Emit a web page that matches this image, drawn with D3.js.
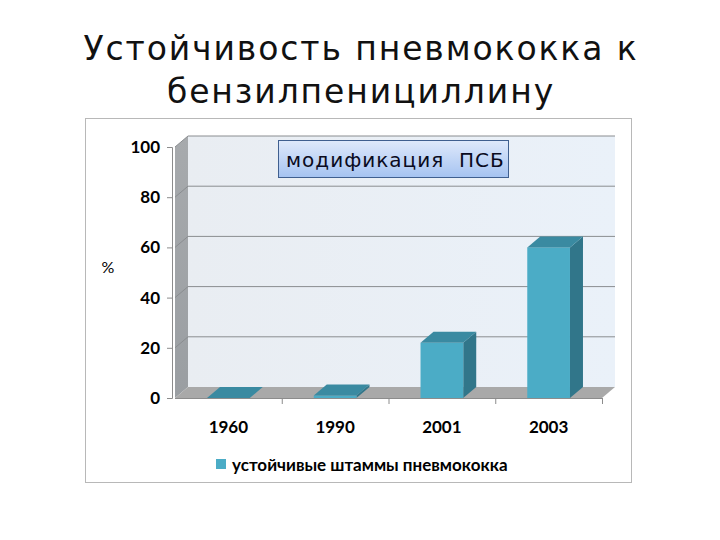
<!DOCTYPE html>
<html>
<head>
<meta charset="utf-8">
<script src="https://d3js.org/d3.v7.min.js"></script>
<style>
  body { margin: 0; background: #fff; }
</style>
</head>
<body>
<script>
  // data
  const categories = ['1960', '1990', '2001', '2003'];
  const values = [0, 1, 22, 60];
  const yTicks = [0, 20, 40, 60, 80, 100];
  const seriesName = 'устойчивые штаммы пневмококка';
  const titleLines = ['Устойчивость пневмококка к', 'бензилпенициллину'];
  const note = 'модификация  ПСБ';

  const W = 720, H = 540;
  const dx = 13, dy = -11; // 3d depth

  const svg = d3.select('body').append('svg')
    .attr('width', W).attr('height', H);

  const defs = svg.append('defs');
  const gWall = defs.append('linearGradient').attr('id', 'wall')
    .attr('x1', 0).attr('y1', 0).attr('x2', 1).attr('y2', 0);
  gWall.append('stop').attr('offset', 0).attr('stop-color', '#e9edf2');
  gWall.append('stop').attr('offset', 1).attr('stop-color', '#eaf1f9');
  const gSide = defs.append('linearGradient').attr('id', 'side')
    .attr('x1', 0).attr('y1', 0).attr('x2', 0).attr('y2', 1);
  gSide.append('stop').attr('offset', 0).attr('stop-color', '#a7aaad');
  gSide.append('stop').attr('offset', 1).attr('stop-color', '#9a9ea2');
  const gNote = defs.append('linearGradient').attr('id', 'note')
    .attr('x1', 0).attr('y1', 0).attr('x2', 0).attr('y2', 1);
  gNote.append('stop').attr('offset', 0).attr('stop-color', '#dfe9fb');
  gNote.append('stop').attr('offset', 1).attr('stop-color', '#a5c3f1');

  // title
  svg.append('g').selectAll('text')
    .data(titleLines)
    .enter().append('text')
    .attr('x', 361)
    .attr('y', (d, i) => 60 + i * 43)
    .attr('text-anchor', 'middle')
    .attr('font-family', 'DejaVu Sans')
    .attr('font-size', '33px')
    .attr('letter-spacing', '1.9px')
    .attr('fill', '#111')
    .text(d => d);

  // chart frame
  svg.append('rect')
    .attr('x', 85.5).attr('y', 118.5)
    .attr('width', 546).attr('height', 364)
    .attr('fill', '#fff').attr('stroke', '#b8b8b8');

  const x = d3.scaleBand().domain(categories)
    .range([175, 602]).paddingInner(0.6).paddingOuter(0.3);
  const xStep = d3.scaleBand().domain(categories).range([175, 602]);
  const y = d3.scaleLinear().domain([0, 100]).range([398, 147]);

  const x0 = 175, x1 = 602;

  // back wall
  svg.append('rect')
    .attr('x', x0 + dx).attr('y', y(100) + dy)
    .attr('width', x1 - x0).attr('height', y(0) - y(100))
    .attr('fill', 'url(#wall)');

  // side wall
  svg.append('path')
    .attr('d', `M${x0},${y(100)}L${x0 + dx},${y(100) + dy}L${x0 + dx},${y(0) + dy}L${x0},${y(0)}Z`)
    .attr('fill', 'url(#side)');

  // grid lines
  svg.append('g').selectAll('path')
    .data(yTicks.filter(d => d > 0))
    .enter().append('path')
    .attr('d', d => `M${x0},${y(d)}L${x0 + dx},${y(d) + dy}L${x1 + dx},${y(d) + dy}`)
    .attr('fill', 'none')
    .attr('stroke', '#8a8d90')
    .attr('stroke-width', 1);

  // floor
  svg.append('path')
    .attr('d', `M${x0},${y(0)}L${x0 + dx},${y(0) + dy}L${x1 + dx},${y(0) + dy}L${x1},${y(0)}Z`)
    .attr('fill', '#a9a9a9');

  // bars
  const bars = svg.append('g').selectAll('g')
    .data(values)
    .enter().append('g');

  bars.append('path') // side
    .attr('d', (d, i) => {
      const xr = x(categories[i]) + x.bandwidth();
      return `M${xr},${y(d)}L${xr + dx},${y(d) + dy}L${xr + dx},${y(0) + dy}L${xr},${y(0)}Z`;
    })
    .attr('fill', '#31768a');

  bars.append('rect') // front
    .attr('x', (d, i) => x(categories[i]))
    .attr('y', d => y(d))
    .attr('width', x.bandwidth())
    .attr('height', d => y(0) - y(d))
    .attr('fill', '#4bacc6');

  bars.append('path') // top
    .attr('d', (d, i) => {
      const xl = x(categories[i]), xr = xl + x.bandwidth();
      return `M${xl},${y(d)}L${xl + dx},${y(d) + dy}L${xr + dx},${y(d) + dy}L${xr},${y(d)}Z`;
    })
    .attr('fill', '#3a8aa1');

  // y axis
  const yAxis = svg.append('g')
    .attr('transform', 'translate(172,0)')
    .call(d3.axisLeft(y).tickValues(yTicks).tickSize(5).tickPadding(7));
  yAxis.select('.domain').attr('stroke', '#8c8c8c');
  yAxis.selectAll('.tick line').attr('stroke', '#8c8c8c');
  yAxis.selectAll('text')
    .attr('font-family', 'Lato')
    .attr('font-weight', 'bold')
    .attr('font-size', '17px')
    .attr('fill', '#000');

  // x axis ticks at band edges
  svg.append('path')
    .attr('d', `M${x0},${y(0) + 0.5}L${x1},${y(0) + 0.5}`)
    .attr('stroke', '#8c8c8c');
  svg.append('g').selectAll('line')
    .data(categories)
    .enter().append('line')
    .attr('x1', d => xStep(d) + xStep.bandwidth() + 0.5)
    .attr('x2', d => xStep(d) + xStep.bandwidth() + 0.5)
    .attr('y1', y(0)).attr('y2', y(0) + 6)
    .attr('stroke', '#8c8c8c');

  svg.append('g').selectAll('text')
    .data(categories)
    .enter().append('text')
    .attr('x', d => x(d) + x.bandwidth() / 2)
    .attr('y', 433)
    .attr('text-anchor', 'middle')
    .attr('font-family', 'Lato')
    .attr('font-weight', 'bold')
    .attr('font-size', '17px')
    .text(d => d);

  // y title
  svg.append('text')
    .attr('x', 108).attr('y', 273)
    .attr('text-anchor', 'middle')
    .attr('font-family', 'Lato')
    .attr('font-size', '16px')
    .text('%');

  // legend
  svg.append('rect')
    .attr('x', 216).attr('y', 459)
    .attr('width', 10).attr('height', 10)
    .attr('fill', '#4bacc6');
  svg.append('text')
    .attr('x', 232).attr('y', 471)
    .attr('font-family', 'Lato')
    .attr('font-weight', 'bold')
    .attr('font-size', '17px')
    .text(seriesName);

  // annotation
  svg.append('rect')
    .attr('x', 278.5).attr('y', 140.5)
    .attr('width', 230).attr('height', 37)
    .attr('fill', 'url(#note)')
    .attr('stroke', '#3f5f8f');
  svg.append('text')
    .attr('x', 286).attr('y', 167)
    .attr('font-family', 'DejaVu Sans')
    .attr('font-size', '20px')
    .attr('letter-spacing', '1px')
    .attr('fill', '#0a0a20')
    .attr('xml:space', 'preserve')
    .style('white-space', 'pre')
    .text(note);
</script>
</body>
</html>
